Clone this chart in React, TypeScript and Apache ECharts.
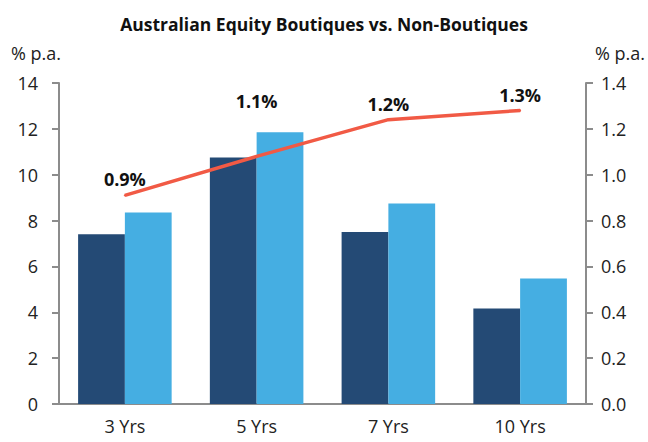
import React, { useEffect, useRef } from "react";
import * as echarts from "echarts";

const categories = ["3 Yrs", "5 Yrs", "7 Yrs", "10 Yrs"];
const boutiques = [7.4, 10.75, 7.5, 4.17];
const nonBoutiques = [8.35, 11.85, 8.75, 5.47];
const difference = [0.91, 1.08, 1.24, 1.28];
const differenceLabels = ["0.9%", "1.1%", "1.2%", "1.3%"];
const axisUnit = "% p.a.";

const FONT = "'Open Sans', 'Liberation Sans', sans-serif";

export default function App() {
  const ref = useRef<HTMLDivElement>(null);
  useEffect(() => {
    if (!ref.current) return;
    const chart = echarts.init(ref.current, null, { renderer: "svg" });
    const axisLine = { show: true, lineStyle: { color: "#8c8c8c", width: 2 } };
    const tick = { show: true, length: 7, lineStyle: { color: "#8c8c8c", width: 2 } };
    chart.setOption({
      animation: false,
      backgroundColor: "#ffffff",
      textStyle: { fontFamily: FONT },
      title: {
        text: "Australian Equity Boutiques vs. Non-Boutiques",
        left: "center",
        top: 10,
        textStyle: { fontSize: 17.5, fontWeight: "bold", color: "#111", fontFamily: FONT },
      },
      graphic: [
        {
          type: "text",
          left: 11,
          top: 44,
          style: { text: axisUnit, fontSize: 18, fill: "#222", fontFamily: FONT },
        },
        {
          type: "text",
          right: 3,
          top: 44,
          style: { text: axisUnit, fontSize: 18, fill: "#222", fontFamily: FONT },
        },
      ],
      grid: { left: 59, right: 62, top: 83, bottom: 38 },
      xAxis: {
        type: "category",
        data: categories,
        axisLine,
        axisTick: { show: false },
        axisLabel: { color: "#222", fontSize: 18, margin: 13, fontFamily: FONT },
      },
      yAxis: [
        {
          type: "value",
          min: 0,
          max: 14,
          interval: 2,
          axisLine,
          axisTick: tick,
          splitLine: { show: false },
          axisLabel: { color: "#222", fontSize: 18, margin: 21, fontFamily: FONT },
        },
        {
          type: "value",
          min: 0,
          max: 1.4,
          interval: 0.2,
          axisLine,
          axisTick: tick,
          splitLine: { show: false },
          axisLabel: {
            color: "#222",
            fontSize: 18,
            margin: 15,
            fontFamily: FONT,
            formatter: (v: number) => v.toFixed(1),
          },
        },
      ],
      series: [
        {
          name: "Boutiques",
          type: "bar",
          data: boutiques,
          barGap: "0%",
          barCategoryGap: "29%",
          itemStyle: { color: "#244a75" },
        },
        {
          name: "Non-Boutiques",
          type: "bar",
          data: nonBoutiques,
          itemStyle: { color: "#45aee2" },
        },
        {
          name: "Difference",
          type: "line",
          yAxisIndex: 1,
          data: difference.map((v, i) => ({
            value: v,
            label: i === 1 ? { distance: 45 } : undefined,
          })),
          symbol: "circle",
          symbolSize: 2,
          showSymbol: true,
          itemStyle: { color: "#f15a45" },
          lineStyle: { color: "#f15a45", width: 3.5 },
          label: {
            show: true,
            position: "top",
            distance: 6,
            fontSize: 18,
            fontWeight: "bold",
            color: "#111",
            opacity: 1,
            fontFamily: FONT,
            formatter: (p: any) => differenceLabels[p.dataIndex],
          },
          labelLayout: { hideOverlap: false },
          z: 5,
        },
      ],
    });
    return () => chart.dispose();
  }, []);
  return <div ref={ref} style={{ width: 648, height: 442, position: "absolute", left: 0, top: 0 }} />;
}
